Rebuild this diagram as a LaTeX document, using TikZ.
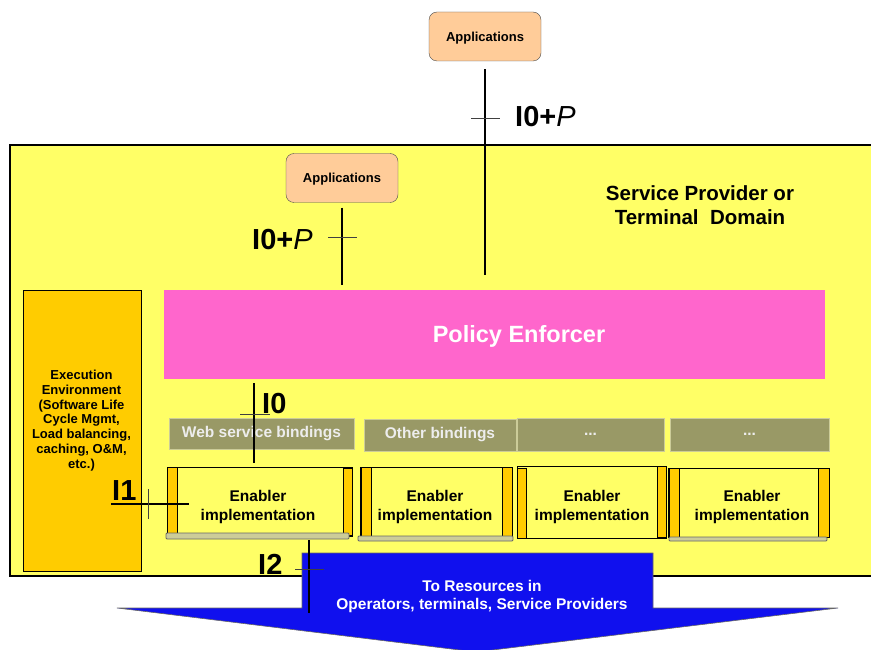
\documentclass[tikz,border=0pt]{standalone}
\usepackage{fontspec}
\setmainfont{Liberation Sans}
\definecolor{appfill}{HTML}{FFCC99}
\definecolor{domainfill}{HTML}{FFFF66}
\definecolor{execfill}{HTML}{FFCC00}
\definecolor{policyfill}{HTML}{FF66CC}
\definecolor{bindfill}{HTML}{999966}
\definecolor{platefill}{HTML}{CCCC99}
\definecolor{bluefill}{HTML}{1010EE}
\tikzset{
  appbox/.style={draw=black!70, fill=appfill, rounded corners=8pt, minimum width=112pt, minimum height=49pt, inner sep=0pt},
  apptext/.style={inner sep=0pt, font=\fontsize{13}{15}\selectfont\bfseries},
  bindbox/.style={fill=bindfill, draw=platefill, line width=0.8pt, inner sep=0pt, text=white!93!black, font=\fontsize{15.5}{18}\selectfont\bfseries},
  enbox/.style={draw=black, line width=1pt, fill=domainfill, inner sep=0pt},
  entext/.style={inner sep=0pt, align=center, font=\fontsize{15.5}{18.5}\selectfont\bfseries},
  enbar/.style={draw=black, line width=0.8pt, fill=execfill},
  enplate/.style={draw=black!60, line width=0.8pt, fill=platefill, rounded corners=1pt},
  ifline/.style={line width=1.3pt, black},
  tick/.style={line width=1pt, black!75},
  iflabel/.style={inner sep=0pt, anchor=base west, font=\fontsize{29}{32}\selectfont\bfseries}
}
\begin{document}
\begin{tikzpicture}[x=1pt,y=-1pt]
\useasboundingbox (0,0) rectangle (871,650);
% domain
\fill[domainfill] (10,145) rectangle (871,576);
\draw[line width=2pt] (871,145) -- (10,145) -- (10,576) -- (871,576);

% policy enforcer
\node[fill=policyfill, minimum width=661pt, minimum height=89pt, inner sep=0pt, anchor=north west] (pol) at (164,290) {};
\node[text=white, font=\fontsize{23.5}{26}\selectfont\bfseries] (poltext) at (519,336) {Policy Enforcer};

% applications
\node[appbox] (app1) at (485,36.5) {};
\node[apptext] (app1t) at (485,38) {Applications};
\node[appbox] (app2) at (342,178) {};
\node[apptext] (app2t) at (342,179.5) {Applications};
\draw[ifline, shorten <=8pt, shorten >=15pt] (app1.south) -- (app1.south |- pol.north);
\draw[ifline, shorten <=5pt, shorten >=5pt] (app2.south) -- (app2.south |- pol.north);
\draw[tick] (471,119) -- (500,119);
\node[iflabel] (l1) at (515,127) {I0+\textmd{\textit{P}}};
\draw[tick] (328,238) -- (357,238);
\node[iflabel] (l2) at (252,249) {I0+\textmd{\textit{P}}};

% service provider text
\node[align=center, font=\fontsize{20.5}{23.5}\selectfont\bfseries] (sp) at (700,205) {Service Provider or\\Terminal\ \ Domain};

% execution environment
\node[draw=black, line width=1pt, fill=execfill, minimum width=118pt, minimum height=281pt, anchor=north west, inner sep=0pt] (exec) at (23,289.5) {};
\node[align=center, font=\fontsize{13}{14.8}\selectfont\bfseries] (exectext) at (81.5,420.5) {Execution\\Environment\\(Software Life\\Cycle Mgmt,\\Load balancing,\\caching, O\&M,\\etc.)};

% bindings
\node[bindbox, minimum width=185pt, minimum height=31pt] (b1) at (261.5,433.5) {Web service bindings};
\node[bindbox, minimum width=152pt, minimum height=32pt] (b2) at (440,435) {Other bindings};
\node[bindbox, minimum width=147pt, minimum height=33pt] (b3) at (590.5,434.5) {...};
\node[bindbox, minimum width=159pt, minimum height=33pt] (b4) at (749.5,434.5) {...};

% enabler boxes
\node[enbox, minimum width=185pt, minimum height=69pt] (e1) at (259.5,501.5) {};
\draw[enbar] (167,467) rectangle (177,535);
\draw[enbar] (343,468) rectangle (352,535);
\draw[enplate] (166,533) rectangle (349,539);
\node[entext] (e1t) at (258,507) {Enabler\\implementation};

\node[enbox, minimum width=152pt, minimum height=70pt] (e2) at (436,502) {};
\draw[enbar] (361,467) rectangle (371,536);
\draw[enbar] (502,467) rectangle (512,536);
\draw[enplate] (358,536) rectangle (513,541);
\node[entext] (e2t) at (435,507) {Enabler\\implementation};

\node[enbox, minimum width=149pt, minimum height=72pt] (e3) at (591.5,502) {};
\draw[enbar] (517,468) rectangle (526,538);
\draw[enbar] (657,466) rectangle (666,537);
\node[entext] (e3t) at (592,507) {Enabler\\implementation};

\node[enbox, minimum width=161pt, minimum height=69pt] (e4) at (748.5,502.5) {};
\draw[enbar] (669,468) rectangle (679,537);
\draw[enbar] (818,468) rectangle (829,537);
\draw[enplate] (669,537) rectangle (827,541);
\node[entext] (e4t) at (752,507) {Enabler\\implementation};

% I0
\coordinate (i0top) at (254,383);
\coordinate (i0bot) at (254,463);
\draw[ifline] (i0top) -- (i0bot);
\draw[tick] (240,414) -- (270,414);
\node[iflabel] (l0) at (262,413) {I0};

% I1
\coordinate (i1left) at (111,504);
\coordinate (i1right) at (189,504);
\draw[ifline] (i1left) -- (i1right);
\draw[tick] (148,489) -- (148,519);
\node[iflabel] (li1) at (112,500) {I1};

% blue arrow
\draw[fill=bluefill, draw=black!60, line width=0.6pt] (302,553) -- (653,553) -- (653,608) -- (838,608) -- (476,652) -- (117,608) -- (302,608) -- cycle;
\node[align=center, text=white, font=\fontsize{15.5}{18}\selectfont\bfseries] (res) at (482,596) {To Resources in\\Operators, terminals, Service Providers};

% I2
\coordinate (i2top) at (309,540);
\coordinate (i2bot) at (309,613);
\draw[ifline] (i2top) -- (i2bot);
\draw[tick] (295,569) -- (324,569);
\node[iflabel] (li2) at (258,574) {I2};
\end{tikzpicture}
\end{document}
